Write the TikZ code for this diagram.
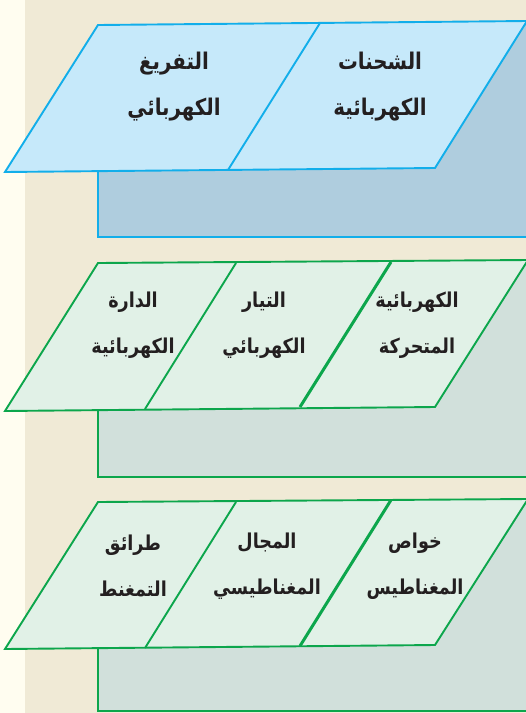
\documentclass[tikz,border=0pt]{standalone}
\usepackage{fontspec}
\newfontfamily\arabicfont[Script=Arabic,FakeStretch=0.86]{DejaVu Sans}
\TeXXeTstate=1
\definecolor{cream}{HTML}{FFFDF0}
\definecolor{beige}{HTML}{F0EAD6}
\definecolor{bstroke}{HTML}{12AEEA}
\definecolor{bfill}{HTML}{C6E9FA}
\definecolor{bdark}{HTML}{AFCDDE}
\definecolor{gstroke}{HTML}{0CA64C}
\definecolor{gfill}{HTML}{E1F1E7}
\definecolor{gdark}{HTML}{D1E0DB}
\definecolor{ink}{HTML}{231F20}
\tikzset{
  bluebox/.style={draw=bstroke,fill=bdark,line width=1.9pt},
  bluepar/.style={draw=bstroke,fill=bfill,line width=1.9pt,line join=miter},
  bluediv/.style={draw=bstroke,line width=1.9pt},
  greenbox/.style={draw=gstroke,fill=gdark,line width=1.9pt},
  greenpar/.style={draw=gstroke,fill=gfill,line width=1.9pt,line join=miter},
  greendiv/.style={draw=gstroke,line width=1.9pt},
  greenthick/.style={draw=gstroke,line width=3pt},
  lbl/.style={text=ink,align=center,font=\arabicfont\bfseries\fontsize{20.5}{46}\selectfont,inner sep=0pt},
  biglbl/.style={lbl,font=\arabicfont\bfseries\fontsize{23}{46}\selectfont}
}
\begin{document}
\begin{tikzpicture}[x=1pt,y=-1pt]
\useasboundingbox (0,0) rectangle (526,713);
\clip (0,0) rectangle (526,713);
\fill[cream] (0,0) rectangle (526,713);
\fill[beige] (25,0) rectangle (526,713);
% panel 1
\draw[bluebox] (98,150) -- (98,237) -- (540,237) -- (540,21) -- (500,30) -- cycle;
\draw[bluepar] (5,172) -- (98,25) -- (527,21) -- (435,168) -- cycle;
\draw[bluediv] (228,170) -- (320,23);
\node[biglbl] (t1a) at (174,87) {\beginR التفريغ\endR\\\beginR الكهربائي\endR};
\node[biglbl] (t1b) at (380,87) {\beginR الشحنات\endR\\\beginR الكهربائية\endR};
% panel 2
\draw[greenbox] (98,390) -- (98,477) -- (540,477) -- (540,260) -- (500,270) -- cycle;
\draw[greenpar] (5,411) -- (98,263) -- (528,260) -- (435,407) -- cycle;
\draw[greendiv] (145,409) -- (236,263);
\draw[greenthick] (300,407) -- (391,262);
\node[lbl] (t2a) at (133,325) {\beginR الدارة\endR\\\beginR الكهربائية\endR};
\node[lbl] (t2b) at (264,325) {\beginR التيار\endR\\\beginR الكهربائي\endR};
\node[lbl] (t2c) at (417,325) {\beginR الكهربائية\endR\\\beginR المتحركة\endR};
% panel 3
\draw[greenbox] (98,630) -- (98,711) -- (540,711) -- (540,499) -- (500,510) -- cycle;
\draw[greenpar] (5,649) -- (98,502) -- (528,499) -- (435,645) -- cycle;
\draw[greendiv] (145,648) -- (236,502);
\draw[greenthick] (300,646) -- (391,500);
\node[lbl] (t3a) at (133,566) {\beginR طرائق\endR\\\beginR التمغنط\endR};
\node[lbl] (t3b) at (267,566) {\beginR المجال\endR\\\beginR المغناطيسي\endR};
\node[lbl] (t3c) at (415,566) {\beginR خواص\endR\\\beginR المغناطيس\endR};
\end{tikzpicture}
\end{document}
